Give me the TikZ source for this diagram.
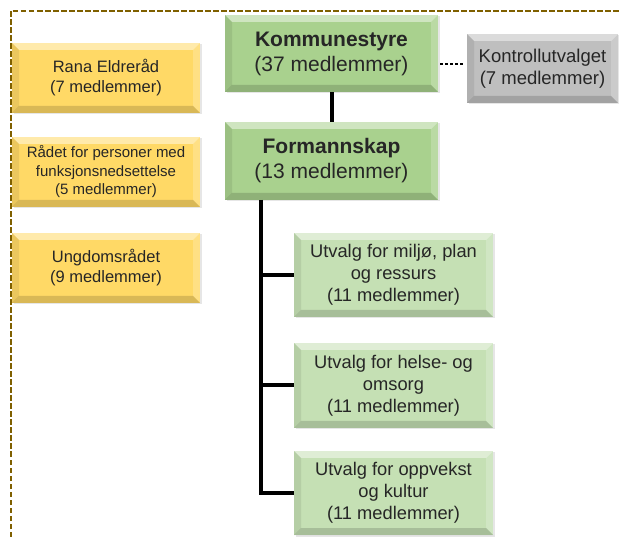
\documentclass[tikz,border=0pt]{standalone}
\usepackage{fontspec}
\setmainfont{Liberation Sans}
\usetikzlibrary{shadows}

\definecolor{gulfarge}{HTML}{FFD966}
\definecolor{gronnmork}{HTML}{A9D18E}
\definecolor{gronnlys}{HTML}{C5E0B4}
\definecolor{gra}{HTML}{BFBFBF}
\definecolor{rammefarge}{HTML}{7F6000}
\definecolor{tekstfarge}{HTML}{262626}

\tikzset{
  boks/.style={rectangle, align=center, inner sep=2pt, fill=#1, text=tekstfarge,
    drop shadow={shadow xshift=1.5pt, shadow yshift=-1.5pt, opacity=.2},
    path picture={
      \fill[white, opacity=.45] (path picture bounding box.north west) -- (path picture bounding box.north east)
        -- ([xshift=-7pt,yshift=-7pt]path picture bounding box.north east) -- ([xshift=7pt,yshift=-7pt]path picture bounding box.north west) -- cycle;
      \fill[black, opacity=.08] (path picture bounding box.north west) -- (path picture bounding box.south west)
        -- ([xshift=7pt,yshift=7pt]path picture bounding box.south west) -- ([xshift=7pt,yshift=-7pt]path picture bounding box.north west) -- cycle;
      \fill[white, opacity=.2] (path picture bounding box.north east) -- (path picture bounding box.south east)
        -- ([xshift=-7pt,yshift=7pt]path picture bounding box.south east) -- ([xshift=-7pt,yshift=-7pt]path picture bounding box.north east) -- cycle;
      \fill[black, opacity=.15] (path picture bounding box.south west) -- (path picture bounding box.south east)
        -- ([xshift=-7pt,yshift=7pt]path picture bounding box.south east) -- ([xshift=7pt,yshift=7pt]path picture bounding box.south west) -- cycle;
    }},
  rad/.style={boks=gulfarge, minimum width=188pt, minimum height=70pt, font=\fontsize{16.5}{20}\selectfont},
  hoved/.style={boks=gronnmork, minimum width=213pt, minimum height=77pt, font=\fontsize{21}{25}\selectfont},
  utvalg/.style={boks=gronnlys, minimum width=199pt, minimum height=84pt, font=\fontsize{18.3}{22}\selectfont},
  linje/.style={line width=4pt}
}

\begin{document}
\begin{tikzpicture}[x=1pt, y=-1pt]
  \useasboundingbox (0,0) rectangle (619,537);

  % stiplet ramme
  \draw[rammefarge, line width=2pt, dash pattern=on 5.5pt off 2.5pt] (11,537) -- (11,11) -- (619,11);

  % rad
  \node[rad] (eldre) at (106,78) {Rana Eldreråd\\(7 medlemmer)};
  \node[rad, font=\fontsize{15}{18.5}\selectfont] (funk) at (106,172) {Rådet for personer med\\funksjonsnedsettelse\\(5 medlemmer)};
  \node[rad] (ungdom) at (106,268) {Ungdomsrådet\\(9 medlemmer)};

  % politisk nivaa
  \node[hoved] (kstyre) at (331.5,53.5) {\textbf{Kommunestyre}\\(37 medlemmer)};
  \node[hoved, minimum height=78pt] (fskap) at (331.5,161) {\textbf{Formannskap}\\(13 medlemmer)};
  \node[boks=gra, minimum width=151pt, minimum height=69pt, font=\fontsize{18.5}{22}\selectfont] (kontroll) at (542.5,68.5) {Kontrollutvalget\\(7 medlemmer)};

  \node[utvalg] (miljo) at (393.5,275) {Utvalg for miljø, plan\\og ressurs\\(11 medlemmer)};
  \node[utvalg, minimum height=85pt] (helse) at (393.5,385.5) {Utvalg for helse- og\\omsorg\\(11 medlemmer)};
  \node[utvalg] (oppvekst) at (393.5,493) {Utvalg for oppvekst\\og kultur\\(11 medlemmer)};

  % linjer
  \draw[linje] (kstyre.south) -- (fskap.north);
  \draw[line width=2.5pt, dash pattern=on 2.5pt off 2.5pt] ([xshift=2pt]kstyre.east |- 0,64) -- ([xshift=-3pt,yshift=4.5pt]kontroll.west);
  \coordinate (stamme) at (261,200);
  \draw[linje] (stamme) |- (oppvekst.west);
  \draw[linje] (stamme |- miljo.west) -- (miljo.west);
  \draw[linje] (stamme |- helse.west) -- (helse.west);
\end{tikzpicture}
\end{document}
